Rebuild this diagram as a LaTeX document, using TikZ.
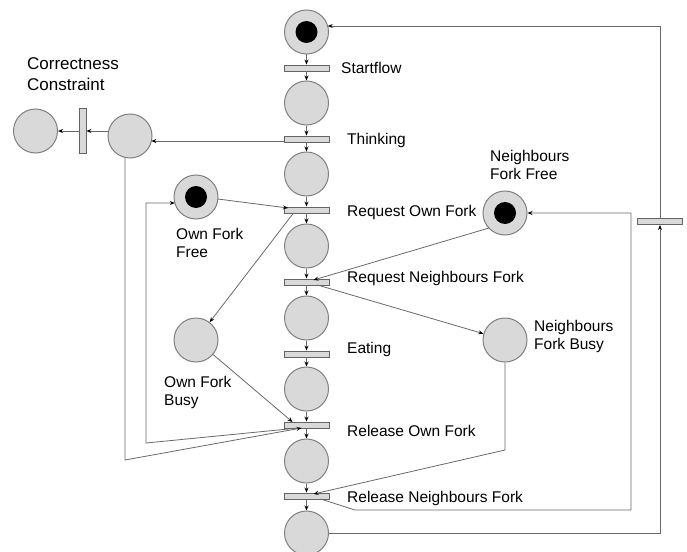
\documentclass[tikz,border=0pt]{standalone}
\usepackage{fontspec}
\setmainfont{Liberation Sans}
\usetikzlibrary{arrows.meta,calc}
\definecolor{placefill}{RGB}{217,217,217}
\definecolor{placeline}{RGB}{128,128,128}
\definecolor{transline}{RGB}{100,100,100}
\definecolor{linecol}{RGB}{105,105,105}
\begin{document}
\begin{tikzpicture}[x=1pt,y=-1pt,
 place/.style={circle,draw=placeline,fill=placefill,line width=1pt,minimum size=44pt,inner sep=0pt},
 trans/.style={rectangle,draw=transline,fill=placefill,line width=0.9pt,minimum width=45pt,minimum height=6pt,inner sep=0pt},
 vtrans/.style={trans,minimum width=7pt,minimum height=45pt},
 arc/.style={draw=linecol,line width=0.8pt},
 arr/.style={arc,-{Stealth[length=5pt,width=4pt,color=black]}},
 lbl/.style={font=\fontsize{15.5}{18}\selectfont,inner sep=0pt,anchor=base west},
 mlbl/.style={font=\fontsize{15.5}{18}\selectfont,inner sep=0pt,anchor=north west,align=left}]

\useasboundingbox (0,0) rectangle (687,551);

% main column
\node[place] (P1) at (306.5,32) {};
\node[trans] (T1) at (306.5,68) {};
\node[place] (P2) at (306.5,103) {};
\node[trans] (T2) at (306.5,139) {};
\node[place] (P3) at (306.5,174) {};
\node[trans] (T3) at (306.5,210) {};
\node[place] (P4) at (306.5,246) {};
\node[trans] (T4) at (306.5,282) {};
\node[place] (P5) at (306.5,318) {};
\node[trans] (T5) at (306.5,354) {};
\node[place] (P6) at (306.5,389) {};
\node[trans] (T6) at (306.5,425) {};
\node[place] (P7) at (306.5,461) {};
\node[trans] (T7) at (306.5,496) {};
\node[place] (P8) at (306.5,533) {};

% side places
\node[place] (CCout) at (35.5,131) {};
\node[vtrans] (CCT) at (82.5,131) {};
\node[place] (CCin) at (130,136) {};
\node[place] (OFF) at (196,197) {};
\node[place] (OFB) at (196,340) {};
\node[place] (NFF) at (505,213) {};
\node[place] (NFB) at (505,340) {};
\node[trans] (TR) at (660,221.5) {};

% tokens
\fill[black] (P1.center) circle (11pt);
\fill[black] (OFF.center) circle (11pt);
\fill[black] (NFF.center) circle (11pt);

% helper coordinates
\coordinate (c1) at (125,460);
\coordinate (a1) at (146,443);
\coordinate (a2) at (146,203);
\coordinate (b1) at (505,450);
\coordinate (d1) at (355,510);
\coordinate (d2) at (631,510);
\coordinate (d3) at (631,213);
\coordinate (e1) at (660,533);
\coordinate (e2) at (660,26);

% main column arcs
\foreach \a/\b in {P1/T1,T1/P2,P2/T2,T2/P3,P3/T3,T3/P4,P4/T4,T4/P5,P5/T5,T5/P6,P6/T6,T6/P7,P7/T7,T7/P8}
  \draw[arr] (\a) -- (\b);

% correctness constraint
\draw[arr] ($(T2.west)+(0,2)$) -- ($(CCin.center)+(21.4,5)$);
\draw[arr] ($(CCin.center)+(-21.4,-5)$) -- (CCT.east);
\draw[arr] (CCT.west) -- (CCout.east);
\draw[arr] ($(CCin.center)+(-5,21.4)$) -- (c1) -- ($(T6.center)+(-5,3)$);

% own fork
\draw[arr] ($(T6.center)+(-8,3)$) -- (a1) -- (a2) -- ($(OFF.center)+(-21.2,6)$);
\draw[arr] ($(OFF.center)+(21.8,2)$) -- ($(T3.center)+(-18.5,-2)$);
\draw[arr] ($(T3.center)+(-13,3)$) -- (OFB);
\draw[arr] (OFB) -- ($(T6.center)+(-14,-3)$);

% neighbours fork
\draw[arr] ($(NFF.center)+(-16,15)$) -- ($(T4.center)+(7,-2)$);
\draw[arr] ($(T4.center)+(11,3)$) -- (NFB);
\draw[arr] (NFB.south) -- (b1) -- ($(T7.center)+(7,-2)$);
\draw[arr] ($(T7.center)+(14,3)$) -- (d1) -- (d2) -- (d3) -- (NFF.east);

% return loop
\draw[arr] (P8.east) -- (e1) -- (TR.south);
\draw[arr] (TR.north) -- (e2) -- ($(P1.center)+(21.2,-6)$);

% labels
\node[lbl] (lT1) at (341,73) {Startflow};
\node[lbl] (lT2) at (347,144) {Thinking};
\node[lbl] (lT3) at (347,216.5) {Request Own Fork};
\node[lbl] (lT4) at (347,282) {Request Neighbours Fork};
\node[lbl] (lT5) at (347,353) {Eating};
\node[lbl] (lT6) at (347,436) {Release Own Fork};
\node[lbl] (lT7) at (347,502) {Release Neighbours Fork};

\node[mlbl,font=\fontsize{17}{21}\selectfont] (lCC) at (27,57) {Correctness\\Constraint};
\node[mlbl] (lNFF) at (490,150) {Neighbours\\Fork Free};
\node[mlbl] (lOFF) at (176,228) {Own Fork\\Free};
\node[mlbl] (lOFB) at (164,376) {Own Fork\\Busy};
\node[mlbl] (lNFB) at (534,320) {Neighbours\\Fork Busy};
\end{tikzpicture}
\end{document}
